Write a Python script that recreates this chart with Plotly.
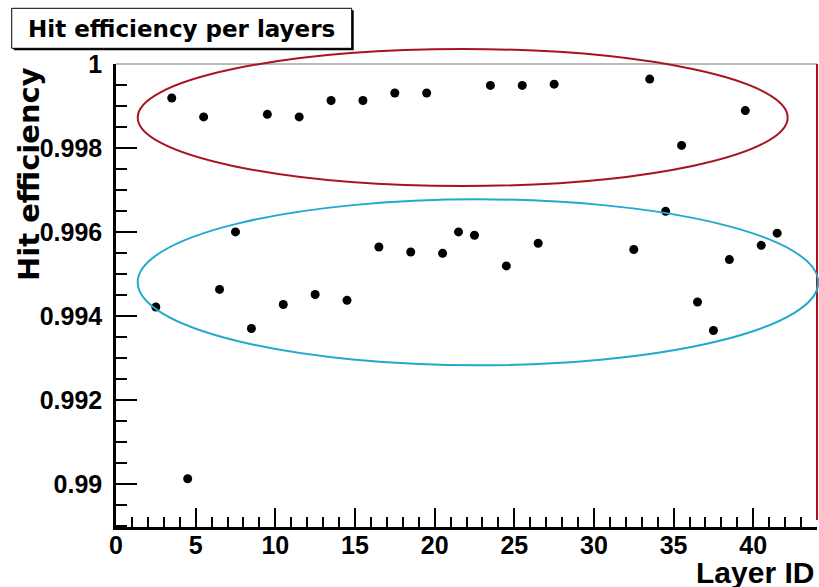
import plotly.graph_objects as go

# ---- data ----
layer_id = [2.5, 3.5, 4.5, 5.5, 6.5, 7.5, 8.5, 9.5, 10.5, 11.5, 12.5, 13.5, 14.5,
            15.5, 16.5, 17.5, 18.5, 19.5, 20.5, 21.5, 22.5, 23.5, 24.5, 25.5, 26.5,
            27.5, 32.5, 33.5, 34.5, 35.5, 36.5, 37.5, 38.5, 39.5, 40.5, 41.5]
hit_eff = [0.99421, 0.99919, 0.99012, 0.99874, 0.99463, 0.99600, 0.99370, 0.99880,
           0.99427, 0.99874, 0.99451, 0.99913, 0.99437, 0.99913, 0.99564, 0.99931,
           0.99552, 0.99931, 0.99549, 0.99600, 0.99592, 0.99949, 0.99519, 0.99949,
           0.99573, 0.99952, 0.99558, 0.99964, 0.99649, 0.99806, 0.99433, 0.99365,
           0.99534, 0.99889, 0.99568, 0.99597]
x_ticks = [0, 5, 10, 15, 20, 25, 30, 35, 40]
y_ticks = [0.99, 0.992, 0.994, 0.996, 0.998, 1.0]
y_ticktext = ["0.99", "0.992", "0.994", "0.996", "0.998", "1"]

title_text = "Hit efficiency per layers"
x_title = "Layer ID"
y_title = "Hit efficiency"

W, H = 819, 587
L, R, T, B = 116, 2, 64, 60
pw, ph = W - L - R, H - T - B


def px(x):  # window pixel -> paper
    return (x - L) / pw


def py(y):
    return (H - B - y) / ph


fig = go.Figure()
fig.add_trace(go.Scatter(
    x=layer_id, y=hit_eff, mode="markers",
    marker=dict(color="black", size=9, symbol="circle"),
    showlegend=False, cliponaxis=False,
))

tickfont = dict(family="Liberation Sans, Arial, sans-serif", size=25, color="black", weight="bold")

fig.update_layout(
    width=W, height=H,
    margin=dict(l=L, r=R, t=T, b=B, autoexpand=False),
    paper_bgcolor="white", plot_bgcolor="white",
    xaxis=dict(
        range=[0, 44], tickmode="array", tickvals=x_ticks,
        ticks="inside", ticklen=19, tickwidth=1.5, tickcolor="black",
        minor=dict(ticks="inside", ticklen=10, tickwidth=1.5, tickcolor="black",
                   tickmode="linear", tick0=0, dtick=1, showgrid=False),
        showline=True, linewidth=2.5, linecolor="black",
        showgrid=False, zeroline=False, tickfont=tickfont, ticklabelstandoff=-6,
    ),
    yaxis=dict(
        range=[0.98897, 1.0], tickmode="array", tickvals=y_ticks, ticktext=y_ticktext,
        ticks="inside", ticklen=21, tickwidth=1.5, tickcolor="black",
        minor=dict(ticks="inside", ticklen=11, tickwidth=1.5, tickcolor="black",
                   tickmode="linear", tick0=0.99, dtick=0.0005, showgrid=False),
        showline=True, linewidth=2.5, linecolor="black",
        showgrid=False, zeroline=False, tickfont=tickfont, ticklabelstandoff=6,
    ),
)

shapes = [
    # top frame (thin gray)
    dict(type="line", xref="paper", yref="paper", x0=0, x1=1, y0=1, y1=1,
         line=dict(color="#777777", width=1)),
    # right frame (red)
    dict(type="line", xref="paper", yref="paper", x0=1, x1=1, y0=py(520), y1=1,
         line=dict(color="#b0101c", width=2)),
    # red ellipse
    dict(type="circle", xref="paper", yref="paper",
         x0=px(137.7), x1=px(787.7), y0=py(186), y1=py(49),
         line=dict(color="#a8141e", width=2)),
    # blue ellipse
    dict(type="circle", xref="paper", yref="paper",
         x0=px(137.7), x1=px(818.3), y0=py(365.3), y1=py(199.3),
         line=dict(color="#22a9cf", width=2)),
    # title box shadow
    dict(type="rect", xref="paper", yref="paper",
         x0=px(13.7), x1=px(353.7), y0=py(50.3), y1=py(10.3),
         line=dict(width=0), fillcolor="black"),
    # title box
    dict(type="rect", xref="paper", yref="paper",
         x0=px(11.7), x1=px(351.7), y0=py(48.3), y1=py(8.3),
         line=dict(color="black", width=1), fillcolor="white"),
]
fig.update_layout(shapes=shapes)

fig.add_annotation(
    text=title_text, xref="paper", yref="paper", x=px(181.7), y=py(29),
    xanchor="center", yanchor="middle", showarrow=False,
    font=dict(family="DejaVu Sans, sans-serif", size=23, color="black", weight="bold"),
)
fig.add_annotation(
    text=x_title, xref="paper", yref="paper", x=1, y=py(572), xanchor="right",
    yanchor="middle", showarrow=False, xshift=-1,
    font=dict(family="Liberation Sans, Arial, sans-serif", size=30, color="black", weight="bold"),
)
fig.add_annotation(
    text=y_title, xref="paper", yref="paper", x=px(29), y=py(174), textangle=-90,
    xanchor="center", yanchor="middle", showarrow=False,
    font=dict(family="DejaVu Sans, sans-serif", size=29, color="black", weight="bold"),
)

fig.write_html(
    "out.html",
    config={"displayModeBar": False},
    post_script="document.body.style.margin='0';document.body.style.overflow='hidden';",
)
